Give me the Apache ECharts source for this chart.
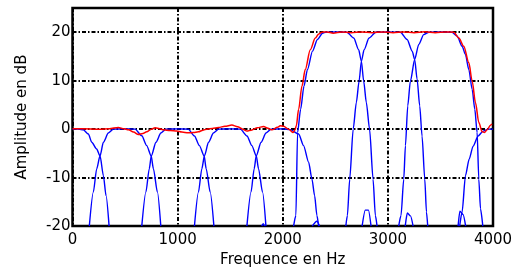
<!DOCTYPE html>
<html>
<head>
<meta charset="utf-8">
<script src="https://cdn.jsdelivr.net/npm/echarts@6/dist/echarts.min.js"></script>
<style>
  html, body { margin: 0; padding: 0; background: #fff; }
  #container { width: 519px; height: 273px; }
</style>
</head>
<body>
<div id="container"></div>
<script>
  // axis ticks
  var xTicks = [0, 1000, 2000, 3000, 4000];
  var yTicks = [-20, -10, 0, 10, 20];

  // filter bank bands, [frequency Hz, amplitude dB]
  var band1 = [[0, 0], [60, 0], [103, -0.14], [151, -1.0], [183, -2.7], [230, -4.1], [262, -5.5], [294, -9.6], [319, -13.7], [348, -20]];
  var band2 = [[160, -20], [198, -13], [230, -8.2], [262, -5.5], [294, -2.7], [341, -0.8], [389, 0], [500, 0.05], [595, 0], [659, -1.37], [706, -3.4], [748, -5.5], [770, -8.2], [808, -13], [840, -20]];
  var band3 = [[659, -20], [698, -13], [730, -8.2], [750, -5.5], [794, -2.7], [841, -0.8], [890, 0], [1000, 0.05], [1100, 0], [1160, -1.4], [1207, -3.4], [1252, -5.5], [1272, -8.2], [1310, -13], [1345, -20]];
  var band4 = [[1160, -20], [1198, -13], [1230, -8.2], [1255, -5.5], [1294, -2.7], [1341, -0.8], [1390, 0], [1500, 0.05], [1597, 0], [1660, -1.4], [1706, -3.4], [1748, -5.5], [1770, -8.2], [1808, -13], [1840, -20]];
  var band5 = [[1659, -20], [1698, -13], [1728, -8.2], [1748, -5.5], [1794, -2.7], [1841, -0.8], [1890, 0], [2000, 0.05], [2071, -0.1], [2151, -1.0], [2198, -3.4], [2246, -6.8], [2278, -10.3], [2303, -13.7], [2325, -17.8], [2341, -20]];
  var band6 = [[2103, -20], [2125, -17.8], [2141, -0.7], [2170, 4.1], [2202, 8.9], [2235, 12.3], [2283, 16.1], [2330, 18.5], [2378, 19.8], [2410, 20], [2500, 20.05], [2611, 20], [2675, 18.8], [2722, 16.4], [2748, 14.0], [2770, 9.9], [2795, 5.5], [2826, 0], [2859, -10.3], [2881, -17.8], [2897, -20]];
  var band7 = [[2600, -20], [2615, -17.8], [2637, -10.3], [2670, 0], [2700, 5.5], [2726, 9.9], [2748, 14], [2774, 16.4], [2821, 18.8], [2885, 20], [3000, 20.05], [3119, 20], [3183, 18.5], [3231, 16.1], [3255, 14.4], [3278, 10.3], [3303, 4.8], [3325, -1.4], [3351, -10.3], [3367, -17.1], [3379, -20]];
  var band8 = [[3103, -20], [3125, -17.8], [3151, -10.3], [3167, -3.4], [3189, 4.8], [3214, 9.9], [3255, 14.4], [3294, 17.5], [3341, 19.5], [3389, 20], [3500, 20.05], [3611, 20], [3659, 19.2], [3706, 17.1], [3738, 15.4], [3770, 12.3], [3802, 8.2], [3827, 4.1], [3849, -0.7], [3865, -10.3], [3881, -16.4], [3903, -20]];
  var band9 = [[3683, -20], [3706, -17.1], [3738, -9.6], [3773, -6.2], [3811, -3.5], [3859, -1.4], [3906, -0.4], [3954, 0], [4000, 0]];

  // side lobes that poke above -20 dB
  var lobe6low = [[1800, -20], [1814, -19.5], [1828, -20]];
  var lobe7low = [[2280, -20], [2325, -19], [2350, -20]];
  var lobe8low = [[2755, -20], [2785, -16.7], [2815, -16.7], [2840, -20]];
  var lobe6high = [[3165, -20], [3185, -17.3], [3215, -17.9], [3240, -20]];
  var lobe7high = [[3668, -20], [3685, -16.9], [3715, -17.6], [3740, -20]];

  // total response (red)
  var total = [[0, 0.1], [100, 0.1], [250, 0], [350, 0.1], [436, 0.34], [490, 0.1], [532, -0.14], [580, -0.6], [627, -1.1], [670, -0.9], [706, -0.55], [750, 0], [786, 0.27], [830, 0.1], [865, -0.14], [930, -0.3], [992, -0.4], [1040, -0.6], [1100, -0.75], [1150, -0.7], [1198, -0.55], [1240, -0.2], [1278, 0], [1330, 0.15], [1389, 0.34], [1450, 0.6], [1516, 0.85], [1570, 0.5], [1620, 0], [1659, -0.4], [1700, -0.2], [1760, 0.3], [1817, 0.55], [1860, 0.2], [1897, -0.14], [1950, 0.4], [1976, 0.68], [2008, 0.6], [2056, 0], [2097, -0.68], [2115, -0.2], [2129, 0.68], [2151, 4.1], [2183, 8.9], [2214, 12.3], [2262, 16.4], [2310, 18.8], [2340, 19.6], [2373, 20], [2420, 20.05], [2480, 19.8], [2560, 20.05], [2650, 19.9], [2750, 20.05], [2850, 19.9], [2950, 20.05], [3050, 19.9], [3150, 20.05], [3250, 19.9], [3350, 20.1], [3450, 19.9], [3550, 20.05], [3627, 20], [3675, 18.8], [3722, 17.1], [3770, 13.7], [3802, 9.9], [3833, 5.5], [3865, 1.4], [3897, -0.55], [3919, -0.68], [3944, -0.14], [3976, 0.82], [3990, 1.1]];

  var blueSets = [band1, band2, band3, band4, band5, band6, band7, band8, band9,
    lobe6low, lobe7low, lobe8low, lobe6high, lobe7high];

  var font = "'DejaVu Sans', sans-serif";
  var gridLine = { color: '#000', width: 2, type: [4, 2, 1.5, 2] };

  var series = blueSets.map(function (d) {
    return {
      type: 'line', data: d, showSymbol: false, smooth: 0.25, smoothMonotone: 'x',
      lineStyle: { color: '#0000ff', width: 1.4 }, silent: true
    };
  });
  series.push({
    type: 'line', data: total, showSymbol: false, smooth: 0.3, smoothMonotone: 'x',
    lineStyle: { color: '#ff0000', width: 1.5 }, silent: true
  });

  var chart = echarts.init(document.getElementById('container'), null, { renderer: 'canvas' });
  chart.setOption({
    animation: false,
    backgroundColor: '#fff',
    grid: { left: 72.5, right: 26, top: 8, bottom: 45.5, show: true, borderColor: '#000', borderWidth: 2.5, backgroundColor: '#fff' },
    xAxis: {
      type: 'value', min: xTicks[0], max: xTicks[xTicks.length - 1], interval: 1000,
      name: 'Frequence en Hz', nameLocation: 'middle', nameGap: 23,
      nameTextStyle: { fontFamily: font, fontSize: 15, color: '#000' },
      axisLine: { show: false }, axisTick: { show: false },
      axisLabel: {
        fontFamily: font, fontSize: 15, color: '#000', margin: 7,
        formatter: function (v) { return String(v); }
      },
      splitLine: { show: true, lineStyle: gridLine }
    },
    yAxis: {
      type: 'value', min: yTicks[0], max: 25, interval: 10,
      name: 'Amplitude en dB', nameLocation: 'middle', nameGap: 43,
      nameTextStyle: { fontFamily: font, fontSize: 15, color: '#000' },
      axisLine: { show: false }, axisTick: { show: false },
      axisLabel: {
        fontFamily: font, fontSize: 15, color: '#000', margin: 2, showMaxLabel: false,
        formatter: function (v) { return yTicks.indexOf(v) >= 0 ? String(v) : ''; }
      },
      splitLine: { show: true, lineStyle: gridLine }
    },
    series: series
  });
</script>
</body>
</html>
